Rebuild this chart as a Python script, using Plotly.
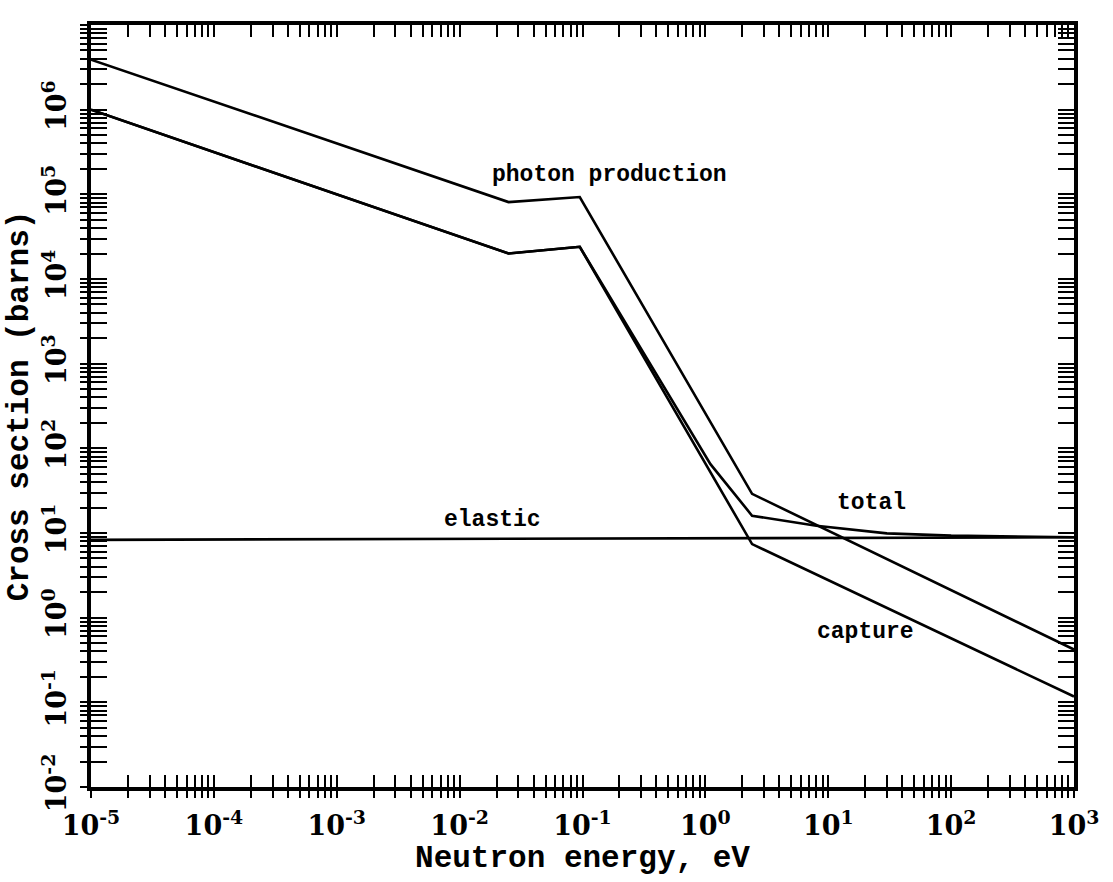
import plotly.graph_objects as go

# ---- data (energy in eV, cross section in barns) ----
energy_photon = [1e-5, 0.025, 0.095, 2.4, 1000]
photon_production = [3.9e6, 8.1e4, 9.3e4, 29, 0.42]

energy_total = [1e-5, 0.025, 0.095, 1.1, 2.4, 8, 30, 100, 1000]
total = [1.0e6, 2.0e4, 2.4e4, 65, 16, 12.2, 9.9, 9.3, 8.9]

energy_capture = [1e-5, 0.025, 0.095, 2.4, 1000]
capture = [1.0e6, 2.0e4, 2.4e4, 7.4, 0.117]

energy_elastic = [1e-5, 1000]
elastic = [8.3, 8.9]

x_decades = list(range(-5, 4))
y_decades = list(range(-2, 8))
x_ticktext = [f"10<sup>{k}</sup>" for k in x_decades]
y_ticktext = [f"10<sup>{k}</sup>" for k in y_decades]

x_major = [10.0 ** k for k in x_decades]
y_major = [10.0 ** k for k in y_decades]
x_minor = [m * 10.0 ** k for k in x_decades[:-1] for m in range(2, 10)]
y_minor = [m * 10.0 ** k for k in y_decades[:-1] for m in range(2, 10)]

LINE = dict(color="black", width=2.6)
fig = go.Figure()
for xs, ys, nm in [
    (energy_photon, photon_production, "photon production"),
    (energy_total, total, "total"),
    (energy_capture, capture, "capture"),
    (energy_elastic, elastic, "elastic"),
]:
    fig.add_trace(go.Scatter(x=xs, y=ys, mode="lines", line=LINE, name=nm,
                             showlegend=False, hoverinfo="skip"))

# dummy trace for overlay axes (outside part of crossing ticks)
fig.add_trace(go.Scatter(x=[], y=[], xaxis="x2", yaxis="y2", showlegend=False))

tickfont = dict(family="DejaVu Serif", size=27, color="black", weight="bold")
titlefont = dict(family="Liberation Mono", size=31, color="black", weight="bold")

fig.update_layout(
    width=1113, height=882,
    margin=dict(l=91, r=39, t=25, b=95),
    paper_bgcolor="white", plot_bgcolor="white",
    xaxis=dict(
        type="log", range=[-5, 3], showgrid=False, zeroline=False,
        showline=True, linecolor="black", linewidth=4, mirror="allticks",
        ticks="inside", ticklen=12, tickwidth=2.2, tickcolor="black",
        tickmode="array", tickvals=x_major, ticktext=x_ticktext,
        tickfont=tickfont, ticklabelstandoff=12,
        minor=dict(tickmode="array", tickvals=x_minor, ticks="inside",
                   ticklen=12, tickwidth=2.2, tickcolor="black", showgrid=False),
        title=dict(text="Neutron energy, eV", font=titlefont, standoff=2),
    ),
    yaxis=dict(
        type="log", range=[-2, 7], showgrid=False, zeroline=False,
        showline=True, linecolor="black", linewidth=4, mirror="allticks",
        ticks="inside", ticklen=16, tickwidth=2.2, tickcolor="black",
        tickmode="array", tickvals=y_major, ticktext=y_ticktext,
        tickfont=tickfont, tickangle=-90, ticklabelstandoff=10,
        minor=dict(tickmode="array", tickvals=y_minor, ticks="inside",
                   ticklen=16, tickwidth=2.2, tickcolor="black", showgrid=False),
        title=dict(text="Cross section (barns)", font=titlefont, standoff=0),
    ),
    xaxis2=dict(
        type="log", range=[-5, 3], overlaying="x", anchor="y2", side="bottom",
        showgrid=False, zeroline=False, showline=False, showticklabels=False,
        ticks="outside", ticklen=10, tickwidth=2.2, tickcolor="black",
        tickmode="array", tickvals=x_major,
        minor=dict(tickmode="array", tickvals=x_minor, ticks="outside",
                   ticklen=10, tickwidth=2.2, tickcolor="black", showgrid=False),
    ),
    yaxis2=dict(
        type="log", range=[-2, 7], overlaying="y", anchor="x2", side="left",
        showgrid=False, zeroline=False, showline=False, showticklabels=False,
        ticks="outside", ticklen=10, tickwidth=2.2, tickcolor="black",
        tickmode="array", tickvals=y_major,
        minor=dict(tickmode="array", tickvals=y_minor, ticks="outside",
                   ticklen=10, tickwidth=2.2, tickcolor="black", showgrid=False),
    ),
)

annfont = dict(family="Liberation Mono", size=23, color="black", weight="bold")
for text, lx, ly in [
    ("photon production", -0.777, 5.23),
    ("elastic", -1.73, 1.154),
    ("total", 1.355, 1.355),
    ("capture", 1.306, -0.169),
]:
    fig.add_annotation(x=lx, y=ly, xref="x", yref="y", text=text,
                       showarrow=False, font=annfont)

fig.write_html("out.html")
